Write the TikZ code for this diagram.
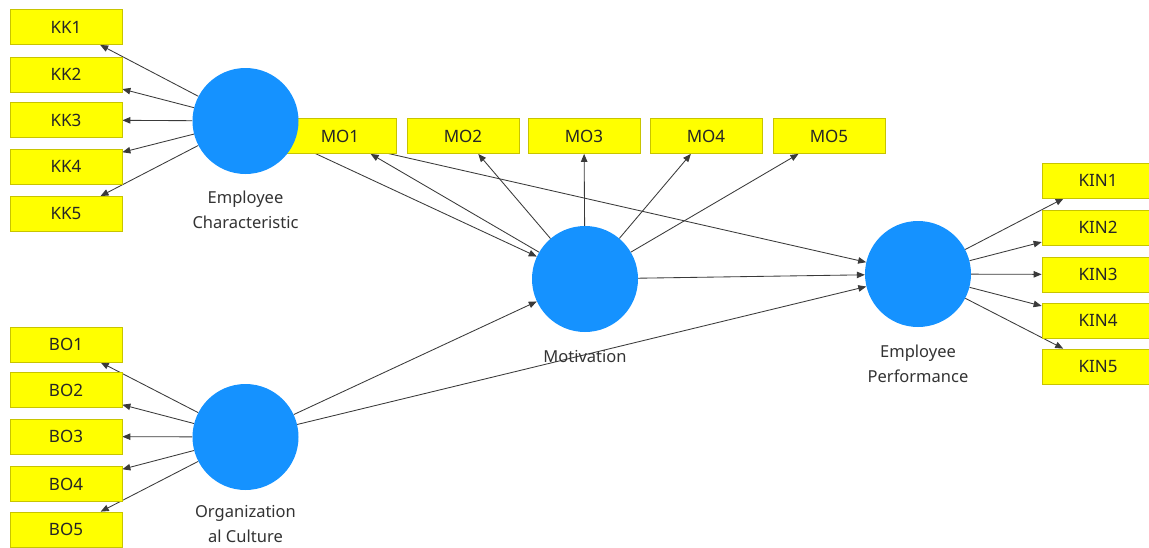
\documentclass[tikz,border=0pt]{standalone}
\usepackage{fontspec}
\setmainfont{Noto Sans}
\usetikzlibrary{arrows.meta}
\pgfdeclarelayer{background}
\pgfdeclarelayer{canvas}
\pgfsetlayers{canvas,background,main}
\definecolor{boxfill}{HTML}{FFFF00}
\definecolor{boxline}{HTML}{C8C400}
\definecolor{lvfill}{HTML}{1592FF}
\definecolor{edgecol}{HTML}{3A3A3A}
\definecolor{txtcol}{HTML}{333333}
\tikzset{
  ind/.style={rectangle, fill=boxfill, draw=boxline, line width=0.8pt,
    minimum width=112pt, minimum height=35pt, inner sep=0pt,
    font=\fontsize{17}{20}\selectfont, text=black!85},
  lv/.style={circle, fill=lvfill, draw=none, minimum size=106pt, inner sep=0pt},
  lvlabel/.style={align=center, text=txtcol, font=\fontsize{16.5}{25}\selectfont},
  edge/.style={draw=edgecol, line width=0.85pt, -{Triangle[length=8pt,width=6.5pt]}}
}
\begin{document}
\begin{tikzpicture}[x=1pt,y=-1pt]
\useasboundingbox (0,0) rectangle (1149,547);
\begin{pgfonlayer}{canvas}
\fill[white] (0,0) rectangle (1149,547);
\end{pgfonlayer}
% indicator boxes
\node[ind] (KK1) at (66,27) {KK1};
\node[ind] (KK2) at (66,74.5) {KK2};
\node[ind] (KK3) at (66,120) {KK3};
\node[ind] (KK4) at (66,166.5) {KK4};
\node[ind] (KK5) at (66,214) {KK5};
\node[ind] (BO1) at (66,344.5) {BO1};
\node[ind] (BO2) at (66,390) {BO2};
\node[ind] (BO3) at (66,436.5) {BO3};
\node[ind] (BO4) at (66,484) {BO4};
\node[ind] (BO5) at (66,529.5) {BO5};
\node[ind] (MO1) at (340,136) {MO1};
\node[ind] (MO2) at (463,136) {MO2};
\node[ind] (MO3) at (584,136) {MO3};
\node[ind] (MO4) at (706,136) {MO4};
\node[ind] (MO5) at (829,136) {MO5};
\node[ind] (KIN1) at (1098,180.5) {KIN1};
\node[ind] (KIN2) at (1098,227.5) {KIN2};
\node[ind] (KIN3) at (1098,274.5) {KIN3};
\node[ind] (KIN4) at (1098,320.5) {KIN4};
\node[ind] (KIN5) at (1098,366.5) {KIN5};
% latent variables
\node[lv] (EC) at (245.5,121) {};
\node[lv] (OC) at (245.5,437) {};
\node[lv] (MOT) at (585,279) {};
\node[lv] (EP) at (918,274) {};
% labels
\node[lvlabel] (ECl) at (245.5,210) {Employee\\Characteristic};
\node[lvlabel] (OCl) at (245.5,524) {Organization\\al Culture};
\node[lvlabel] (MOTl) at (585,356) {Motivation};
\node[lvlabel] (EPl) at (918,364) {Employee\\Performance};
% connectors
\begin{pgfonlayer}{background}
\foreach \i in {1,...,5} {
  \draw[edge] (EC) -- (KK\i);
  \draw[edge] (OC) -- (BO\i);
  \draw[edge] (MOT) -- (MO\i);
  \draw[edge] (EP) -- (KIN\i);
}
\draw[edge] (EC) -- (MOT);
\draw[edge] (EC) -- (EP);
\draw[edge] (OC) -- (MOT);
\draw[edge] (OC) -- (EP);
\draw[edge] (MOT) -- (EP);
\end{pgfonlayer}
\end{tikzpicture}
\end{document}
